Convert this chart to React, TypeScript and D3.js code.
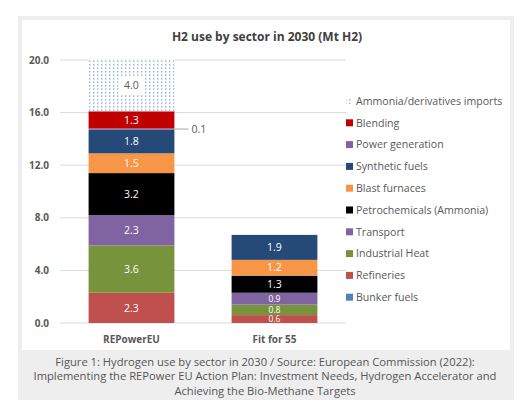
import React, { useEffect, useRef } from 'react';
import * as d3 from 'd3';

// scenarios on the x axis
const scenarios = ['REPowerEU', 'Fit for 55'];

// sectors, bottom of the stack first
const sectors = [
  'Bunker fuels',
  'Refineries',
  'Industrial Heat',
  'Transport',
  'Petrochemicals (Ammonia)',
  'Blast furnaces',
  'Synthetic fuels',
  'Power generation',
  'Blending',
  'Ammonia/derivatives imports',
];

const sectorColors = [
  '#4f81bd',
  '#c0504d',
  '#77933c',
  '#8064a2',
  '#000000',
  '#f79646',
  '#254a78',
  '#8064a2',
  '#c00000',
  'url(#dots)',
];

// Mt H2 per sector, same order as sectors
const repowerValues = [0, 2.3, 3.6, 2.3, 3.2, 1.5, 1.8, 0.1, 1.3, 4.0];
const fitFor55Values = [0, 0.6, 0.8, 0.9, 1.3, 1.2, 1.9, 0, 0, 0];

const yTicks = [0, 4, 8, 12, 16, 20];

const captionLines = [
  'Figure 1: Hydrogen use by sector in 2030 / Source: European Commission (2022):',
  'Implementing the REPower EU Action Plan: Investment Needs, Hydrogen Accelerator and',
  'Achieving the Bio-Methane Targets',
];

const FONT = '"Open Sans", sans-serif';

export default function App() {
  const svgRef = useRef<SVGSVGElement>(null);

  useEffect(() => {
    if (!svgRef.current) return;
    const svg = d3.select(svgRef.current);
    svg.selectAll('*').remove();

    const defs = svg.append('defs');
    const pat = defs.append('pattern')
      .attr('id', 'dots')
      .attr('width', 4)
      .attr('height', 3.5)
      .attr('patternUnits', 'userSpaceOnUse');
    pat.append('rect').attr('width', 4).attr('height', 3.5).attr('fill', '#fff');
    pat.append('rect').attr('x', 1).attr('y', 1).attr('width', 1.4).attr('height', 1.4).attr('fill', '#86a8d8');

    // frame + caption background
    svg.append('rect').attr('x', 18).attr('y', 16).attr('width', 496).attr('height', 384).attr('fill', '#eeeeee');
    svg.append('rect').attr('x', 22).attr('y', 20).attr('width', 488).attr('height', 330).attr('fill', '#fff');

    svg.append('text')
      .attr('x', 267).attr('y', 41)
      .attr('text-anchor', 'middle')
      .style('font-family', FONT).style('font-size', '12px').style('font-weight', 'bold')
      .attr('fill', '#404040')
      .text('H2 use by sector in 2030 (Mt H2)');

    const x = d3.scaleBand().domain(scenarios).range([60, 346]).paddingInner(0.4).paddingOuter(0.2);
    const y = d3.scaleLinear().domain([0, 20]).range([323, 60]);

    // grid + y labels
    const g = svg.append('g');
    g.selectAll('.grid').data(yTicks).enter().append('line')
      .attr('x1', 60).attr('x2', 346)
      .attr('y1', d => y(d)).attr('y2', d => y(d))
      .attr('stroke', '#d9d9d9').attr('stroke-width', 1);
    g.selectAll('.ylab').data(yTicks).enter().append('text')
      .attr('x', 49).attr('y', d => y(d)).attr('dy', '0.35em')
      .attr('text-anchor', 'end')
      .style('font-family', FONT).style('font-size', '10px').style('font-weight', 'bold')
      .attr('fill', '#595959')
      .text(d => d3.format('.1f')(d));

    const rows = scenarios.map((s, i) => {
      const vals = i === 0 ? repowerValues : fitFor55Values;
      const r: any = { scenario: s };
      sectors.forEach((k, j) => { r[k] = vals[j]; });
      return r;
    });
    const series = d3.stack().keys(sectors)(rows);

    series.forEach((ser, si) => {
      ser.forEach((seg: any) => {
        const s = seg.data.scenario;
        const v = seg[1] - seg[0];
        if (v <= 0) return;
        const bx = x(s)!;
        const bw = x.bandwidth();
        const top = y(seg[1]);
        const h = y(seg[0]) - y(seg[1]);
        svg.append('rect')
          .attr('x', bx).attr('y', top).attr('width', bw).attr('height', h)
          .attr('fill', sectorColors[si]);
        const label = d3.format('.1f')(v);
        const cx = bx + bw / 2;
        const cy = top + h / 2;
        const fs = h < 14 ? '8.5px' : '10.5px';
        if (sectors[si] === 'Power generation') {
          svg.append('line')
            .attr('x1', bx + bw).attr('x2', bx + bw + 14)
            .attr('y1', cy).attr('y2', cy)
            .attr('stroke', '#a6a6a6').attr('stroke-width', 1);
          svg.append('text')
            .attr('x', bx + bw + 17).attr('y', cy).attr('dy', '0.35em')
            .style('font-family', FONT).style('font-size', '10.5px')
            .attr('fill', '#595959').text(label);
        } else if (sectors[si] === 'Ammonia/derivatives imports') {
          svg.append('rect')
            .attr('x', cx - 13).attr('y', cy - 9).attr('width', 26).attr('height', 18)
            .attr('fill', '#fff');
          svg.append('text')
            .attr('x', cx).attr('y', cy).attr('dy', '0.35em').attr('text-anchor', 'middle')
            .style('font-family', FONT).style('font-size', '10.5px')
            .attr('fill', '#595959').text(label);
        } else {
          svg.append('text')
            .attr('x', cx).attr('y', cy).attr('dy', '0.35em').attr('text-anchor', 'middle')
            .style('font-family', FONT).style('font-size', fs)
            .attr('fill', '#fff').text(label);
        }
      });
    });

    // x labels
    svg.selectAll('.xlab').data(scenarios).enter().append('text')
      .attr('x', d => x(d)! + x.bandwidth() / 2).attr('y', 339).attr('dy', '0.35em')
      .attr('text-anchor', 'middle')
      .style('font-family', FONT).style('font-size', '10px').style('font-weight', 'bold')
      .attr('fill', '#595959')
      .text(d => d);

    // legend, top entry first
    const legendItems = sectors.map((s, i) => ({ name: s, color: sectorColors[i] })).reverse();
    const leg = svg.append('g');
    legendItems.forEach((it, i) => {
      const ly = 101 + i * 21.8;
      leg.append('rect').attr('x', 346).attr('y', ly - 3.5).attr('width', 7).attr('height', 7).attr('fill', it.color);
      leg.append('text')
        .attr('x', 356).attr('y', ly).attr('dy', '0.35em')
        .style('font-family', FONT).style('font-size', '10.6px')
        .attr('fill', '#595959')
        .text(it.name);
    });

    // caption
    svg.selectAll('.cap').data(captionLines).enter().append('text')
      .attr('x', 265).attr('y', (d, i) => 362 + i * 14.5).attr('dy', '0.35em')
      .attr('text-anchor', 'middle')
      .style('font-family', FONT).style('font-size', '11.2px')
      .attr('fill', '#555')
      .text(d => d);
  }, []);

  return (
    <svg ref={svgRef} width={525} height={406} style={{ position: 'absolute', left: 0, top: 0, background: '#fff' }} />
  );
}
